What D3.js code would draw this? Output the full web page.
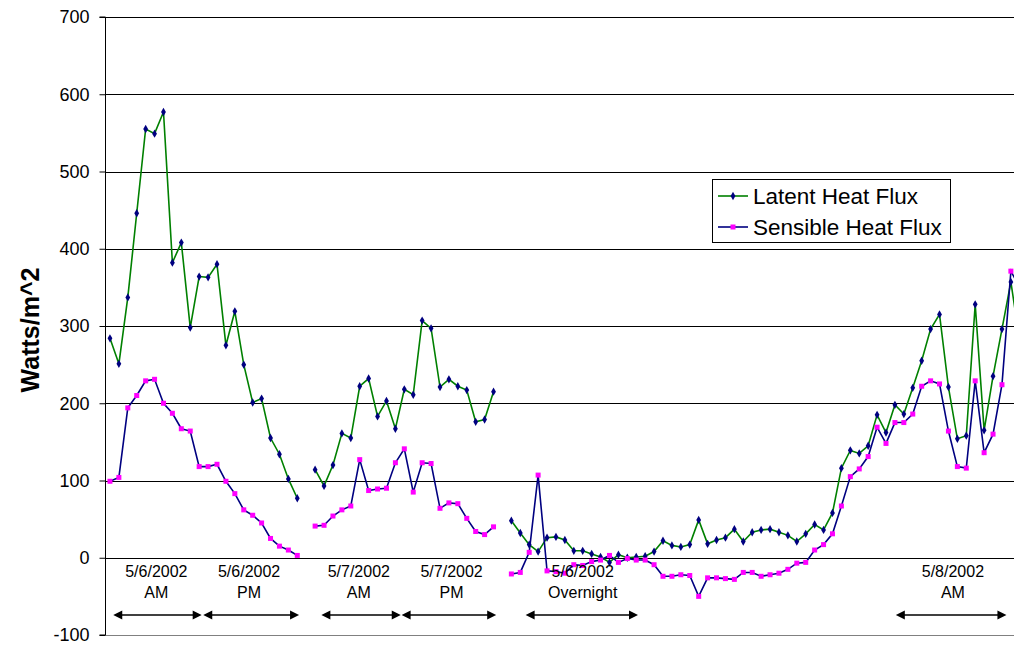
<!DOCTYPE html>
<html><head><meta charset="utf-8">
<script src="https://cdn.jsdelivr.net/npm/d3@7"></script>
<style>
html,body{margin:0;padding:0;background:#fff;overflow:hidden}
text{font-family:"Liberation Sans",Arial,sans-serif}
</style></head>
<body><svg id="c" width="1014" height="645"></svg>
<script>
const categories = d3.range(104);
const latent = [
 284,251,337,446,555,549,577,382,408,298,364,363,380,275,319,250,201,206,155,134,102,77,
 null,
 114,93,120,161,155,222,232,183,203,167,218,211,307,297,221,231,222,217,176,179,215,
 null,
 48,32,17,8,26,27,23,9,9,5,1,-6,4,0,1,2,8,22,16,14,17,49,18,23,26,37,21,33,
 36,37,33,29,21,31,43,36,58,116,139,135,145,185,162,198,186,220,255,296,315,221,154,158,328,165,235,296,357,280
];
const sensible = [
 99,104,194,210,229,231,200,187,167,164,118,118,121,99,83,62,55,45,25,15,10,3,
 null,
 41,42,54,62,67,127,87,89,90,123,141,85,123,122,64,71,70,51,34,30,40,
 null,
 -21,-19,7,107,-17,-18,-20,-9,-10,-5,-3,3,-6,-1,-3,-3,-9,-24,-24,-22,-23,-50,-26,-26,-27,-28,-19,-19,
 -24,-22,-20,-15,-7,-6,10,17,31,67,105,115,131,169,148,175,175,186,222,229,225,164,118,116,229,136,160,224,371,350
];
const yTicks = [-100,0,100,200,300,400,500,600,700];
const seriesNames = ["Latent Heat Flux","Sensible Heat Flux"];
const periodLabels = [["5/6/2002","AM"],["5/6/2002","PM"],["5/7/2002","AM"],["5/7/2002","PM"],["5/6/2002","Overnight"],["5/8/2002","AM"]];
const periodCenter = [5.2,15.6,27.9,38.3,53,94.5];
const periodStart = [0.37,10.46,23.7,32.7,46.6,88.1];
const periodEnd = [10.28,21.2,32.6,43.3,59.2,100.5];

const svg = d3.select("#c");
const pLeft = 105.5, step = 8.92, pTop = 17, pBottom = 635;
const x = d3.scaleBand().domain(categories).range([pLeft, pLeft + step*categories.length]).padding(0);
const xc = i => x(i) + x.bandwidth()/2;
const xi = d3.scaleLinear().domain([0,1]).range([xc(0), xc(1)]);
const y = d3.scaleLinear().domain([-100,700]).range([pBottom, pTop]);

// gridlines
svg.append("g").selectAll("line").data(yTicks).join("line")
  .attr("x1", pLeft).attr("x2", 1014)
  .attr("y1", d => Math.round(y(d))+0.5).attr("y2", d => Math.round(y(d))+0.5)
  .attr("stroke", d => d === -100 ? "#808080" : "#000").attr("stroke-width", 1);

// y axis
const yAxis = d3.axisLeft(y).tickValues(yTicks).tickSize(6).tickPadding(10).tickFormat(d => String(d));
const ga = svg.append("g").attr("transform", `translate(${Math.round(pLeft)-0.5},0)`).call(yAxis);
ga.select(".domain").attr("stroke","#000").attr("d", `M-6,${y(700)}H0V${y(-100)}H-6`);
ga.selectAll(".tick line").attr("stroke","#000");
ga.selectAll(".tick text").attr("font-size", 18).attr("fill","#000")
  .attr("font-family","'Liberation Sans',Arial,sans-serif");

svg.append("text").attr("transform", "translate(39,330) rotate(-90)")
  .attr("text-anchor","middle").attr("font-size", 25).attr("font-weight","bold").text("Watts/m^2");

// series
const line = d3.line().defined(d => d != null).x((d,i) => xc(i)).y(d => y(d));
svg.append("path").datum(latent).attr("d", line).attr("fill","none").attr("stroke","#008000").attr("stroke-width",1.6);
const diamond = d3.symbol().type(d3.symbolDiamond).size(20);
svg.append("g").selectAll("path").data(latent.map((v,i)=>({v,i})).filter(d=>d.v!=null)).join("path")
  .attr("d", diamond).attr("transform", d => `translate(${xc(d.i)},${y(d.v)})`).attr("fill","#000080");
svg.append("path").datum(sensible).attr("d", line).attr("fill","none").attr("stroke","#000080").attr("stroke-width",1.6);
svg.append("g").selectAll("rect").data(sensible.map((v,i)=>({v,i})).filter(d=>d.v!=null)).join("rect")
  .attr("x", d => xc(d.i)-2.5).attr("y", d => y(d.v)-2.5).attr("width",5).attr("height",5).attr("fill","#ff00ff");

// period annotations
const ann = svg.append("g");
periodLabels.forEach((lines, k) => {
  const cx = xi(periodCenter[k]);
  lines.forEach((t, j) => ann.append("text").attr("x", cx).attr("y", 577 + j*21)
    .attr("text-anchor","middle").attr("font-size",16).text(t));
  const x1 = xi(periodStart[k]), x2 = xi(periodEnd[k]), ay = 615;
  ann.append("line").attr("x1", x1+8).attr("x2", x2-8).attr("y1", ay).attr("y2", ay).attr("stroke","#000").attr("stroke-width",1.5);
  ann.append("path").attr("d", `M${x1},${ay}L${x1+9},${ay-4.5}L${x1+9},${ay+4.5}Z`).attr("fill","#000");
  ann.append("path").attr("d", `M${x2},${ay}L${x2-9},${ay-4.5}L${x2-9},${ay+4.5}Z`).attr("fill","#000");
});

// legend
const lg = svg.append("g");
lg.append("rect").attr("x",712.5).attr("y",179.5).attr("width",238).attr("height",63).attr("fill","#fff").attr("stroke","#000");
const rowsY = [196, 227];
const colors = ["#008000","#000080"];
seriesNames.forEach((n,k) => {
  lg.append("line").attr("x1",718).attr("x2",748).attr("y1",rowsY[k]).attr("y2",rowsY[k]).attr("stroke",colors[k]).attr("stroke-width",1.6);
  if (k===0) lg.append("path").attr("d", diamond).attr("transform",`translate(733,${rowsY[k]})`).attr("fill","#000080");
  else lg.append("rect").attr("x",730.5).attr("y",rowsY[k]-2.5).attr("width",5).attr("height",5).attr("fill","#ff00ff");
  lg.append("text").attr("x",753).attr("y",rowsY[k]+7.5).attr("font-size",22.5).text(n);
});
</script></body></html>
